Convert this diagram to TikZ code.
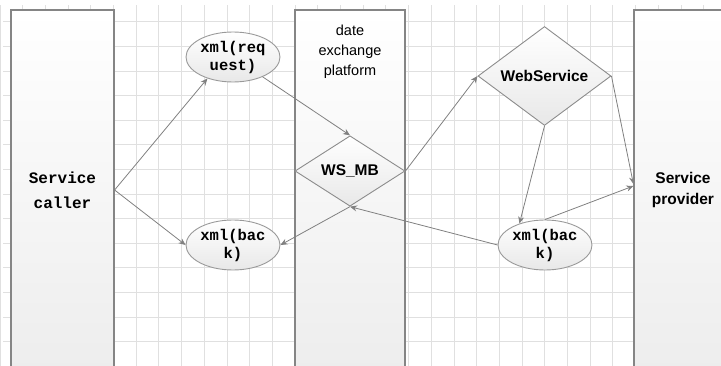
\documentclass[tikz,border=0pt]{standalone}
\usepackage{fontspec}
\setmainfont{Liberation Sans}
\newfontfamily\monofont{Liberation Mono}
\usetikzlibrary{shapes.geometric,arrows.meta}

\begin{document}
\begin{tikzpicture}[x=1pt, y=-1pt,
    lane/.style = {draw=black!48, line width=1.2pt, top color=white,
      bottom color=black!7, minimum width=#1, minimum height=360pt,
      inner sep=0pt, align=center},
    msg/.style = {ellipse, draw=black!40, line width=0.9pt, top color=white,
      bottom color=black!9, minimum width=94pt, minimum height=50pt,
      inner sep=0pt, align=center,
      font=\monofont\bfseries\fontsize{15.5}{18}\selectfont},
    hub/.style = {diamond, draw=black!45, line width=0.9pt, top color=white,
      bottom color=black!9, inner sep=0pt,
      font=\bfseries\fontsize{15.5}{18}\selectfont},
    flow/.style = {draw=black!50, line width=0.8pt,
      -{Stealth[length=7pt,width=6pt]}}
  ]
    \useasboundingbox (0,0) rectangle (721,366);
    \clip (0,0) rectangle (721,366);

    \foreach \x in {0,...,31}
      \draw[black!12, line width=1pt] (22.7*\x, 5) -- (22.7*\x, 366);
    \foreach \y in {0,...,14}
      \draw[black!12, line width=1pt] (3, 22+24.6*\y) -- (721, 22+24.6*\y);

    \node[lane=103pt, font=\monofont\bfseries\fontsize{16}{25}\selectfont]
      (caller) at (62.5,190) {Service\\caller};
    \node[lane=110pt] (platform) at (350,190) {};
    \node[lane=98pt, font=\bfseries\fontsize{15.5}{21}\selectfont] (provider)
      at (683,190) {Service\\provider};
    \node[font=\fontsize{14.5}{20}\selectfont, align=center] (platformtxt)
      at (350,52) {date\\exchange\\platform};

    \node[msg] (req) at (233,57) {xml(req\\uest)};
    \node[msg] (backl) at (233,245) {xml(bac\\k)};
    \node[msg] (backr) at (545,245) {xml(bac\\k)};

    \node[hub, minimum width=110pt, minimum height=64pt] (wsmb)
      at (350,171) {WS\_MB};
    \node[hub, minimum width=133pt, minimum height=86pt] (websvc)
      at (544.5,76) {WebService};

    \draw[flow] (caller.east) -- (req.220);
    \draw[flow] (caller.east) -- (backl.west);
    \draw[flow] (req) -- (wsmb.north);
    \draw[flow] (wsmb.south) -- (backl.east);
    \draw[flow] (backr.west) -- (wsmb.south);
    \draw[flow] (wsmb.east) -- (websvc.west);
    \draw[flow] (websvc.south) -- (backr.140);
    \draw[flow] (websvc.east) -- ([yshift=6pt]provider.west);
    \draw[flow] (backr.north) -- ([yshift=4pt]provider.west);
\end{tikzpicture}
\end{document}
